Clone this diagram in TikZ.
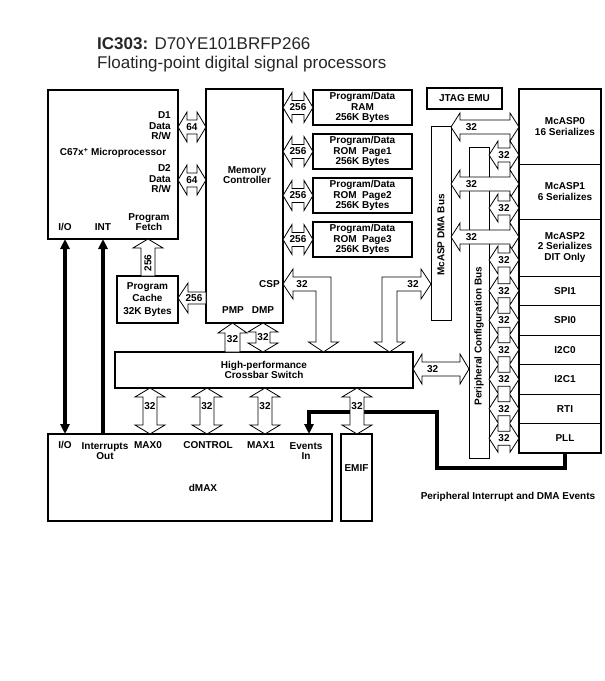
\documentclass[tikz,border=0pt]{standalone}
\usepackage{fontspec}
\setmainfont{Liberation Sans}
\usetikzlibrary{arrows.meta,calc,positioning}

\newcommand{\lblfont}{\fontsize{10}{10.5}\selectfont\bfseries}
\newcommand{\bush}{15}
\newcommand{\buss}{7}
\newcommand{\busl}{9}

% hollow double-headed bus, horizontal: [label pos]{left}{right}{y ref}{label}
\newcommand{\hbus}[5][0.5]{%
  \draw[bus] let \p1=(#2), \p2=(#3), \p3=(#4) in
    (\x1,\y3) -- (\x1+\busl,\y3+\bush) -- (\x1+\busl,\y3+\buss)
    -- (\x2-\busl,\y3+\buss) -- (\x2-\busl,\y3+\bush) -- (\x2,\y3)
    -- (\x2-\busl,\y3-\bush) -- (\x2-\busl,\y3-\buss)
    -- (\x1+\busl,\y3-\buss) -- (\x1+\busl,\y3-\bush) -- cycle
    ({\x1+(\x2-\x1)*#1},\y3) node[buslbl] {#5};
}
% hollow double-headed bus, vertical: [label pos]{top}{bottom}{x ref}{label}
\newcommand{\vbus}[5][0.5]{%
  \draw[bus] let \p1=(#2), \p2=(#3), \p3=(#4) in
    (\x3,\y1) -- (\x3+\bush,\y1-\busl) -- (\x3+\buss,\y1-\busl)
    -- (\x3+\buss,\y2+\busl) -- (\x3+\bush,\y2+\busl) -- (\x3,\y2)
    -- (\x3-\bush,\y2+\busl) -- (\x3-\buss,\y2+\busl)
    -- (\x3-\buss,\y1-\busl) -- (\x3-\bush,\y1-\busl) -- cycle
    (\x3,{\y1+(\y2-\y1)*#1}) node[buslbl] {#5};
}

\begin{document}
\begin{tikzpicture}[x=1pt, y=1pt,
  box/.style={draw, line width=1.3pt, outer sep=0pt, inner sep=0pt, align=center, font=\lblfont},
  store/.style={box, line width=2pt, minimum width=99, minimum height=35},
  periph/.style={box, line width=0.8pt, minimum width=82},
  txt/.style={inner sep=0pt, align=center, font=\lblfont},
  plbl/.style={label={[txt, xshift=5]center:{#1}}},
  buslbl/.style={inner sep=0pt, font=\lblfont},
  bus/.style={draw, fill=white, line width=0.8pt},
  sig/.style={line width=3.6pt, line join=miter},
  >={Triangle[length=10pt, width=9pt]}
]
\useasboundingbox (0,0) rectangle (605,-681);

% title
\node[anchor=base west, inner sep=0pt, font=\fontsize{17}{19}\selectfont, text=black!85] (title) at (97,-49)
  {\textbf{IC303:} D70YE101BRFP266};
\node[anchor=base west, inner sep=0pt, font=\fontsize{17}{19}\selectfont, text=black!85] (subtitle) at (97,-68)
  {Floating-point digital signal processors};

% processor and memory side
\node[box, minimum width=130, minimum height=149] (cpu) at (113,-164.5) {};
\node[box, minimum width=77, minimum height=234] (mem) at (244.5,-206) {};
\node[store] (ram) at (362.5,-107.5) {Program/Data\\RAM\\256K Bytes};
\node[store, below=9 of ram] (rom1) {Program/Data\\ROM\ \ Page1\\256K Bytes};
\node[store, below=9 of rom1] (rom2) {Program/Data\\ROM\ \ Page2\\256K Bytes};
\node[store, below=9 of rom2] (rom3) {Program/Data\\ROM\ \ Page3\\256K Bytes};
\node[box, line width=2pt, minimum width=61, minimum height=47, font=\fontsize{10}{12.5}\selectfont\bfseries] (cache) at (147.5,-299.5)
  {Program\\Cache\\32K Bytes};
\node[box, minimum width=298, minimum height=36] (xbar) at (264,-370)
  {High-performance\\Crossbar Switch};

\node[txt, anchor=east, align=right] at (171,-126) {D1\\Data\\R/W};
\node[txt] at (113,-153) {C67x\textsuperscript{+} Microprocessor};
\node[txt, anchor=east, align=right] at (171,-179) {D2\\Data\\R/W};
\node[txt] at (149,-222) {Program\\Fetch};
\node[txt] at (65,-227) {I/O};
\node[txt] at (103,-227) {INT};
\node[txt] at (247,-175) {Memory\\Controller};
\node[txt, anchor=east] at (280,-284) {CSP};
\node[txt] at (233,-310) {PMP};
\node[txt] at (263,-310) {DMP};

% peripheral side
\node[box, line width=2pt, minimum width=75, minimum height=21] (jtag) at (464.5,-98.5) {JTAG EMU};
\node[box, line width=0.9pt, minimum width=20, minimum height=194] (dma) at (441,-223) {};
\node[txt, rotate=90] at (441,-235) {McASP DMA Bus};
\node[box, line width=0.9pt, minimum width=20, minimum height=311] (pcb) at (479,-302.5) {};
\node[txt, rotate=90] at (479,-336) {Peripheral Configuration Bus};

\node[periph, minimum height=75, plbl={McASP0\\16 Serializes}] (mcasp0) at (560,-126.5) {};
\node[periph, minimum height=55, below=0pt of mcasp0, plbl={McASP1\\6 Serializes}] (mcasp1) {};
\node[periph, minimum height=57, below=0pt of mcasp1, plbl={McASP2\\2 Serializes\\DIT Only}] (mcasp2) {};
\node[periph, minimum height=29.5, below=0pt of mcasp2, plbl=SPI1] (spi1) {};
\node[periph, minimum height=29.5, below=0pt of spi1, plbl=SPI0] (spi0) {};
\node[periph, minimum height=29.5, below=0pt of spi0, plbl=I2C0] (i2c0) {};
\node[periph, minimum height=29.5, below=0pt of i2c0, plbl=I2C1] (i2c1) {};
\node[periph, minimum height=29.5, below=0pt of i2c1, plbl=RTI] (rti) {};
\node[periph, minimum height=29.5, below=0pt of rti, plbl=PLL] (pll) {};
\draw[line width=2pt] (mcasp0.north west) rectangle (pll.south east);

% dMAX and EMIF
\node[box, minimum width=284, minimum height=87] (dmax) at (190,-477.5) {};
\node[box, minimum width=31, minimum height=87] (emif) at (356.5,-477.5) {};
\node[txt] at (356.5,-468) {EMIF};
\node[txt] at (203,-488) {dMAX};
\node[txt] at (65,-445) {I/O};
\node[txt] at (105,-451) {Interrupts\\Out};
\node[txt] at (148,-445) {MAX0};
\node[txt] at (208,-445) {CONTROL};
\node[txt] at (261,-445) {MAX1};
\node[txt] at (306,-451) {Events\\In};
\node[txt] (evlbl) at (508,-497) {Peripheral Interrupt and DMA Events};

% interrupt and event lines
\coordinate (evin) at ($(dmax.north west)+(261,0)$);
\draw[sig, <->] ($(cpu.south west)+(17,0)$) -- ($(dmax.north west)+(17,0)$);
\draw[sig, ->] ($(dmax.north west)+(55,0)$) -- ($(cpu.south west)+(55,0)$);
\draw[sig, ->] ($(pll.south)+(5,0)$) -- ++(0,-15) -| (437,-412) -| (evin);

% buses
\hbus{cpu.east}{mem.west}{0,-127}{64}
\hbus{cpu.east}{mem.west}{0,-180}{64}
\hbus{mem.east}{ram.west}{ram.west}{256}
\hbus{mem.east}{rom1.west}{rom1.west}{256}
\hbus{mem.east}{rom2.west}{rom2.west}{256}
\hbus{mem.east}{rom3.west}{rom3.west}{256}

\draw[bus] let \p1=(cache.east), \p2=(mem.west) in
  (\x1,-298) -- (\x1+10,-283) -- (\x1+10,-292) -- (\x2,-292) -- (\x2,-304)
  -- (\x1+10,-304) -- (\x1+10,-313) -- cycle;
\node[buslbl] at (194,-298) {256};
\draw[bus] let \p1=(cpu.south), \p2=(cache.north) in
  (148,\y1) -- (163,\y1-9) -- (155,\y1-9) -- (155,\y2) -- (141,\y2)
  -- (141,\y1-9) -- (133,\y1-9) -- cycle;
\node[buslbl, rotate=90] at (148,-263) {256};

\draw[bus] let \p1=(mem.south), \p2=(xbar.north) in
  (232.5,\y1) -- (247,\y1-10) -- (240,\y1-10) -- (240,\y2) -- (225,\y2)
  -- (225,\y1-10) -- (218,\y1-10) -- cycle;
\node[buslbl] at (232.5,-339) {32};
\vbus{mem.south}{xbar.north}{263,0}{32}

% CSP port
\draw[bus] let \p1=(mem.east), \p2=(xbar.north) in
  (\x1,-284) -- (\x1+10,-269) -- (\x1+10,-277) -- (331,-277) -- (331,\y2+10)
  -- (338.5,\y2+10) -- (323.5,\y2) -- (308.5,\y2+10) -- (316,\y2+10)
  -- (316,-291) -- (\x1+10,-291) -- (\x1+10,-299) -- cycle;
\node[buslbl] at (302,-284) {32};
% McASP DMA bus port
\draw[bus] let \p1=(dma.west), \p2=(xbar.north) in
  (\x1,-284) -- (\x1-10,-269) -- (\x1-10,-277) -- (382,-277) -- (382,\y2+10)
  -- (374.5,\y2+10) -- (389.5,\y2) -- (404.5,\y2+10) -- (397,\y2+10)
  -- (397,-291) -- (\x1-10,-291) -- (\x1-10,-299) -- cycle;
\node[buslbl] at (413,-284) {32};

\vbus[0.4]{xbar.south}{dmax.north}{150,0}{32}
\vbus[0.4]{xbar.south}{dmax.north}{207,0}{32}
\vbus[0.4]{xbar.south}{dmax.north}{265,0}{32}
\vbus[0.4]{xbar.south}{emif.north}{357,0}{32}
\hbus[0.35]{xbar.east}{pcb.west}{0,-369}{32}

\begin{scope}
\renewcommand{\bush}{14}
\hbus[0.3]{dma.east}{mcasp0.west}{0,-127}{32}
\hbus[0.3]{dma.east}{mcasp1.west}{0,-184}{32}
\hbus[0.3]{dma.east}{mcasp2.west}{0,-237}{32}
\hbus{pcb.east}{mcasp0.west}{0,-155}{32}
\hbus{pcb.east}{mcasp1.west}{0,-208}{32}
\hbus{pcb.east}{mcasp2.west}{0,-260}{32}
\hbus{pcb.east}{spi1.west}{spi1.west}{32}
\hbus{pcb.east}{spi0.west}{spi0.west}{32}
\hbus{pcb.east}{i2c0.west}{i2c0.west}{32}
\hbus{pcb.east}{i2c1.west}{i2c1.west}{32}
\hbus{pcb.east}{rti.west}{rti.west}{32}
\hbus{pcb.east}{pll.west}{pll.west}{32}
\end{scope}
\end{tikzpicture}
\end{document}
